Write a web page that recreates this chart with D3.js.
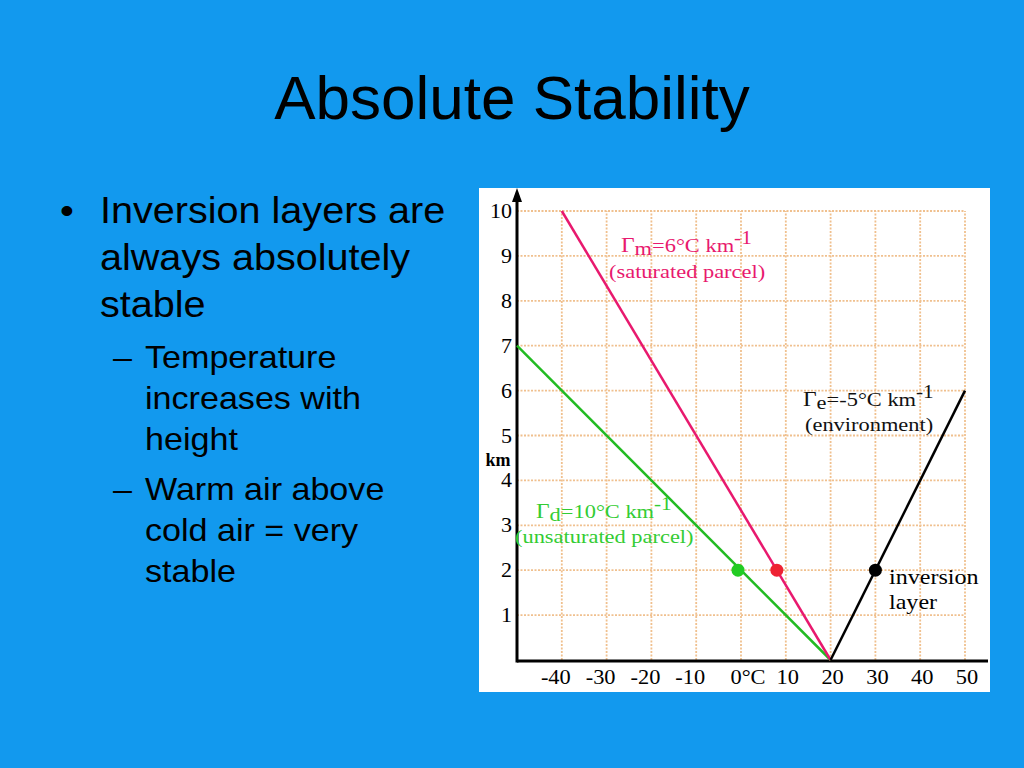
<!DOCTYPE html>
<html>
<head>
<meta charset="utf-8">
<script src="https://cdn.jsdelivr.net/npm/d3@7"></script>
<style>
  html, body { margin: 0; padding: 0; background: #1299ee; }
  svg { display: block; }
</style>
</head>
<body>
<svg id="slide" width="1024" height="768"></svg>
<script>
// chart data
const tempTicks = [-40, -30, -20, -10, 0, 10, 20, 30, 40, 50];
const tempLabels = ["-40", "-30", "-20", "-10", "0°C", "10", "20", "30", "40", "50"];
const heightTicks = [1, 2, 3, 4, 5, 6, 7, 8, 9, 10];

// lines: temperature (°C) at each height (km)
const dryTemps = [20, -50];
const dryHeights = [0, 7];
const moistTemps = [20, -40];
const moistHeights = [0, 10];
const envTemps = [20, 50];
const envHeights = [0, 6];

// parcels at 2 km
const dotNames = ["dry", "moist", "env"];
const dotTemps = [0, 8, 30];
const dotHeights = [2, 2, 2];

const bullets = [
  { level: 0, lines: ["Inversion layers are", "always absolutely", "stable"] },
  { level: 1, lines: ["Temperature", "increases with", "height"] },
  { level: 1, lines: ["Warm air above", "cold air = very", "stable"] }
];

const colors = { dry: "#22bb22", moist: "#e8196e", env: "#000000" };
const dotColors = { dry: "#22cc22", moist: "#ee2233", env: "#000000" };

const svg = d3.select("#slide");
const sans = "'Liberation Sans', Arial, sans-serif";
const serif = "'Liberation Serif', 'Times New Roman', serif";

// text stretched sideways a little, like the slide
function wideText(parent, px, py, sx, font, str) {
  return parent.append("text")
    .attr("transform", `translate(${px},${py}) scale(${sx},1)`)
    .style("font", font)
    .text(str);
}

// title
svg.append("text")
  .attr("x", 512).attr("y", 119)
  .attr("text-anchor", "middle")
  .style("font", `62px ${sans}`)
  .text("Absolute Stability");

// bullet text
let yPos = [223, 368, 500];
bullets.forEach((b, i) => {
  const lh = b.level === 0 ? 47 : 41;
  const fs = b.level === 0 ? 37 : 31;
  const sx = b.level === 0 ? 1.07 : 1.1;
  const tx = b.level === 0 ? 100 : 145;
  wideText(svg, b.level === 0 ? 60 : 113, yPos[i], sx, `${fs}px ${sans}`, b.level === 0 ? "•" : "–");
  b.lines.forEach((l, j) => {
    wideText(svg, tx, yPos[i] + j * lh, sx, `${fs}px ${sans}`, l);
  });
});

// chart panel
svg.append("rect")
  .attr("x", 479).attr("y", 188)
  .attr("width", 511).attr("height", 504)
  .attr("fill", "#fff");

const x = d3.scaleLinear().domain([-50, 50]).range([517, 965]);
const y = d3.scaleLinear().domain([0, 10]).range([660, 211]);

const g = svg.append("g");

// grid
const gridColor = "#f0c08e";
g.append("g").selectAll("line")
  .data(tempTicks)
  .join("line")
  .attr("x1", d => x(d)).attr("x2", d => x(d))
  .attr("y1", y(0)).attr("y2", y(10))
  .attr("stroke", gridColor).attr("stroke-width", 1.8)
  .attr("stroke-dasharray", "2,1.5");
g.append("g").selectAll("line")
  .data(heightTicks)
  .join("line")
  .attr("x1", x(-50)).attr("x2", x(50))
  .attr("y1", d => y(d)).attr("y2", d => y(d))
  .attr("stroke", gridColor).attr("stroke-width", 1.8)
  .attr("stroke-dasharray", "2,1.5");

// axes
g.append("line")
  .attr("x1", x(-50)).attr("x2", 988)
  .attr("y1", y(0) + 1).attr("y2", y(0) + 1)
  .attr("stroke", "#000").attr("stroke-width", 3);
g.append("line")
  .attr("x1", x(-50)).attr("x2", x(-50))
  .attr("y1", y(0) + 2.5).attr("y2", 196)
  .attr("stroke", "#000").attr("stroke-width", 3);
g.append("path")
  .attr("d", `M${x(-50)},188 L${x(-50) - 5},202 L${x(-50) + 5},202 Z`)
  .attr("fill", "#000");

// tick labels
g.append("g").selectAll("text")
  .data(heightTicks)
  .join("text")
  .attr("transform", d => `translate(512,${y(d) + 7}) scale(1.1,1)`)
  .attr("text-anchor", "end")
  .style("font", `20px ${serif}`)
  .text(d => d);
g.append("text")
  .attr("x", 498).attr("y", 466)
  .attr("text-anchor", "middle")
  .style("font", `bold 18px ${serif}`)
  .text("km");
g.append("g").selectAll("text")
  .data(tempTicks)
  .join("text")
  .attr("transform", d => `translate(${x(d) + (d < 0 ? -6 : d === 0 ? 7 : 2)},684) scale(1.12,1)`)
  .attr("text-anchor", "middle")
  .style("font", `20px ${serif}`)
  .text((d, i) => tempLabels[i]);

// lines
const lineGen = d3.line().x(d => x(d[0])).y(d => y(d[1]));
const series = [
  { key: "dry", t: dryTemps, h: dryHeights },
  { key: "moist", t: moistTemps, h: moistHeights },
  { key: "env", t: envTemps, h: envHeights }
];
g.append("g").selectAll("path")
  .data(series)
  .join("path")
  .attr("d", s => lineGen(s.t.map((t, i) => [t, s.h[i]])))
  .attr("fill", "none")
  .attr("stroke", s => colors[s.key])
  .attr("stroke-width", 2.5);

// dots
g.append("g").selectAll("circle")
  .data(dotTemps)
  .join("circle")
  .attr("cx", (d, i) => x(d) - (i === 0 ? 3 : 0))
  .attr("cy", (d, i) => y(dotHeights[i]))
  .attr("r", 6.5)
  .attr("fill", (d, i) => dotColors[dotNames[i]]);

// annotations
function gammaLabel(px, py, sub, rest, color, px2, py2, second, fs) {
  const t = wideText(g, px, py, 1.15, `${fs}px ${serif}`, null).attr("fill", color);
  t.append("tspan").style("font-size", `${fs + 1}px`).text("Γ");
  t.append("tspan").attr("dy", 3).text(sub);
  t.append("tspan").attr("dy", -3).text(rest);
  t.append("tspan").attr("dy", -8).style("font-size", `${fs - 1}px`).text("-1");
  wideText(g, px2, py2, 1.15, `${fs}px ${serif}`, second).attr("fill", color);
}
gammaLabel(621, 252, "m", "=6°C km", "#e8196e", 609, 278, "(saturated parcel)", 19.5);
gammaLabel(803, 406, "e", "=-5°C km", "#111", 805, 431, "(environment)", 19.5);
gammaLabel(536, 518, "d", "=10°C km", "#33cc33", 515, 543, "(unsaturated parcel)", 19.5);

wideText(g, 889, 584, 1.12, `21.5px ${serif}`, "inversion");
wideText(g, 889, 609, 1.12, `21.5px ${serif}`, "layer");
</script>
</body>
</html>
